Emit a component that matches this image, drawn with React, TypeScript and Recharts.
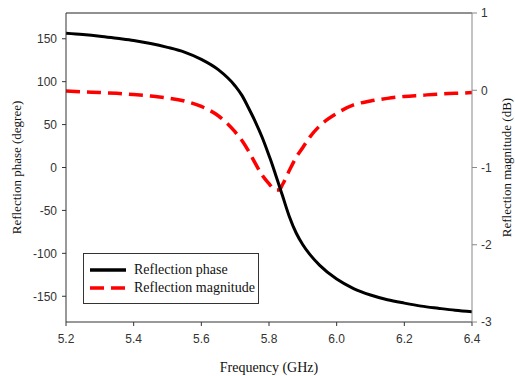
import { LineChart, Line, XAxis, YAxis, Legend, ReferenceLine, Label } from 'recharts'

// frequency grid (GHz)
const freq = [
  5.2, 5.25, 5.3, 5.35, 5.4, 5.45, 5.5, 5.55, 5.6, 5.65, 5.7, 5.72, 5.74, 5.76, 5.78, 5.8,
  5.81, 5.82, 5.83, 5.84, 5.86, 5.88, 5.9, 5.92, 5.95, 6.0, 6.05, 6.1, 6.15, 6.2, 6.25, 6.3, 6.35, 6.4,
]

// reflection phase (degree)
const phase = [
  156.5, 155, 153, 150.5, 148, 144.5, 140, 134.5, 126, 114, 95, 84, 69, 53, 35, 14,
  3, -9, -21, -33, -57, -76, -90, -101, -114, -130, -141, -148.5, -154, -158, -161.5, -164, -166.3, -168,
]

// reflection magnitude (dB)
const magnitude = [
  -0.01, -0.02, -0.03, -0.04, -0.055, -0.075, -0.1, -0.14, -0.21, -0.33, -0.54, -0.65, -0.79, -0.95, -1.1, -1.21,
  -1.26, -1.29, -1.29, -1.22, -1.04, -0.87, -0.74, -0.61, -0.46, -0.3, -0.19, -0.14, -0.105, -0.08, -0.065, -0.05, -0.04, -0.03,
]

const xTicks = [5.2, 5.4, 5.6, 5.8, 6.0, 6.2, 6.4]
const phaseTicks = [-150, -100, -50, 0, 50, 100, 150]
const magTicks = [-3, -2, -1, 0, 1]

const data = freq.map((f, i) => ({ f, phase: phase[i], mag: magnitude[i] }))

const tickStyle = { fontFamily: 'Liberation Sans, Arial, sans-serif', fontSize: 12, fill: '#333' }
const serif = 'Liberation Serif, Times New Roman, serif'

const LegendBox = () => (
  <div style={{
    width: 176,
    height: 51,
    boxSizing: 'border-box',
    border: '1px solid #333',
    background: '#fff',
    fontFamily: serif,
    fontSize: 14,
    color: '#111',
    padding: '7px 0 0 6px'
  }}>
    <div style={{ display: 'flex', alignItems: 'center', height: 18 }}>
      <svg width={38} height={6} style={{ marginRight: 6 }}>
        <line x1={0} y1={3} x2={36} y2={3} stroke="#000" strokeWidth={3.5} />
      </svg>
      <span>Reflection phase</span>
    </div>
    <div style={{ display: 'flex', alignItems: 'center', height: 18 }}>
      <svg width={38} height={6} style={{ marginRight: 6 }}>
        <line x1={0} y1={3} x2={36} y2={3} stroke="#ff0000" strokeWidth={3.5} strokeDasharray="14 7" />
      </svg>
      <span>Reflection magnitude</span>
    </div>
  </div>
)

export default function App() {
  return (
    <div style={{ position: 'absolute', left: 0, top: 0, background: '#fff' }}>
      <LineChart width={515} height={376} data={data} margin={{ top: 13, right: 0, bottom: 0, left: 0 }}>
        <XAxis
          dataKey="f"
          type="number"
          domain={[5.2, 6.4]}
          ticks={xTicks}
          tickFormatter={(v: number) => v.toFixed(1)}
          height={54}
          tickSize={4}
          tickMargin={8}
          tick={tickStyle}
          stroke="#333"
        >
          <Label value="Frequency (GHz)" position="insideBottom" offset={4}
            style={{ fontFamily: serif, fontSize: 14, fill: '#111' }} />
        </XAxis>
        <YAxis
          yAxisId="left"
          domain={[-180, 180]}
          ticks={phaseTicks}
          width={66}
          tickSize={4}
          tickMargin={5}
          tick={tickStyle}
          stroke="#333"
          allowDataOverflow
        >
          <Label value="Reflection phase (degree)" angle={-90} position="center" dx={-17}
            style={{ fontFamily: serif, fontSize: 13, fill: '#111', textAnchor: 'middle' }} />
        </YAxis>
        <YAxis
          yAxisId="right"
          orientation="right"
          domain={[-3, 1]}
          ticks={magTicks}
          width={43}
          tickSize={5}
          tickMargin={4}
          tick={tickStyle}
          stroke="#888"
          allowDataOverflow
        >
          <Label value="Reflection magnitude (dB)" angle={-90} position="center" dx={13}
            style={{ fontFamily: serif, fontSize: 13, fill: '#111', textAnchor: 'middle' }} />
        </YAxis>
        <ReferenceLine yAxisId="left" y={180} stroke="#222" strokeWidth={1} />
        <Legend
          content={() => <LegendBox />}
          layout="horizontal"
          verticalAlign="middle"
          align="center"
          wrapperStyle={{ left: 83, top: 253, width: 176, height: 51 }}
        />
        <Line
          yAxisId="right"
          type="monotone"
          dataKey="mag"
          stroke="#ff0000"
          strokeWidth={3.5}
          strokeDasharray="14 7"
          dot={false}
          isAnimationActive={false}
        />
        <Line
          yAxisId="left"
          type="monotone"
          dataKey="phase"
          stroke="#000"
          strokeWidth={3}
          dot={false}
          isAnimationActive={false}
        />
      </LineChart>
    </div>
  )
}
